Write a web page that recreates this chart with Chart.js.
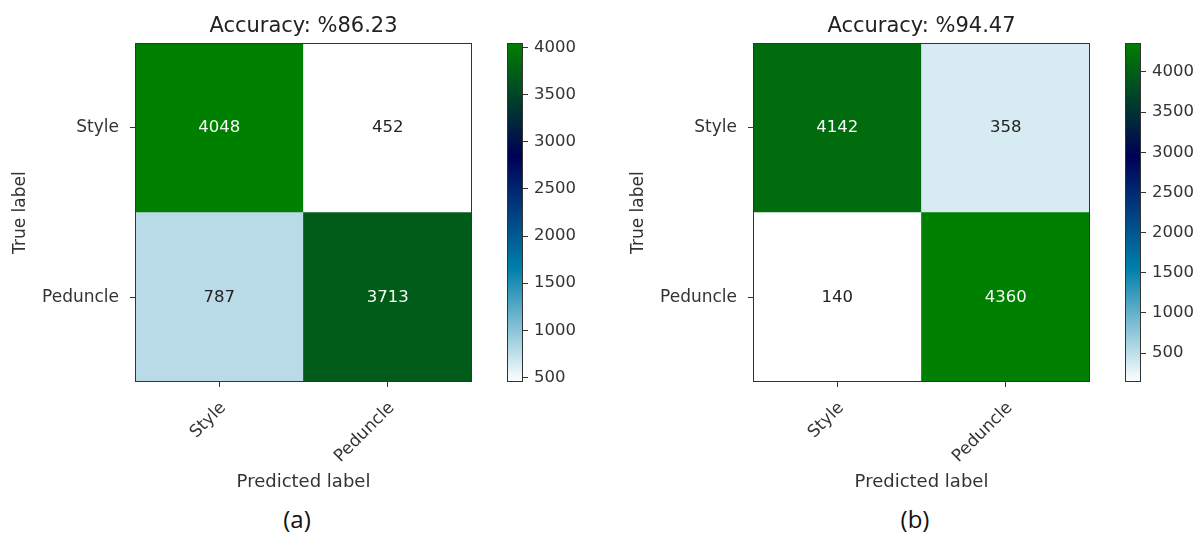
<!DOCTYPE html>
<html>
<head>
<meta charset="utf-8">
<title>Confusion matrices</title>
<script src="https://cdn.jsdelivr.net/npm/chart.js@4.4.1/dist/chart.umd.min.js"></script>
<style>
  html, body { margin: 0; padding: 0; background: #fff; width: 1197px; height: 533px; overflow: hidden; }
  canvas { position: absolute; top: 0; }
  .cap { position: absolute; top: 504px; width: 100px; text-align: center;
         font: 24px 'Open Sans', 'Liberation Sans', sans-serif; color: #111; line-height: 30px; }
</style>
</head>
<body>
<canvas id="matA" style="left:0px" width="480" height="500"></canvas>
<canvas id="barA" style="left:480px" width="120" height="500"></canvas>
<canvas id="matB" style="left:618px" width="480" height="500"></canvas>
<canvas id="barB" style="left:1098px" width="99" height="500"></canvas>
<div class="cap" id="capA" style="left:247px"></div>
<div class="cap" id="capB" style="left:865px"></div>

<script>
// Class names (rows = true label, columns = predicted label)
const classes = ['Style', 'Peduncle'];

// Confusion-matrix counts, row by row
const countsA = [[4048, 452], [787, 3713]];
const countsB = [[4142, 358], [140, 4360]];

// Overall accuracy of each model (percent)
const accuracyA = 86.23;
const accuracyB = 94.47;

// Colour-bar tick values
const colorbarTicks = [500, 1000, 1500, 2000, 2500, 3000, 3500, 4000];

// Panel captions
const captions = ['(a)', '(b)'];

const FONT = "'DejaVu Sans', sans-serif";
const INK = '#333';

// matplotlib "ocean_r" colour map, t in [0, 1]
function oceanR(t) {
  const x = 1 - Math.min(1, Math.max(0, t));
  const c = v => Math.round(255 * Math.min(1, Math.max(0, v)));
  return `rgb(${c(3 * x - 2)}, ${c(Math.abs((3 * x - 1) / 2))}, ${c(x)})`;
}

// Axes frame around the plotting area
const framePlugin = {
  id: 'frame',
  afterDatasetsDraw(chart) {
    const { ctx, chartArea: a } = chart;
    ctx.save();
    ctx.strokeStyle = INK;
    ctx.lineWidth = 1;
    const l = Math.round(a.left) + 0.5, t = Math.round(a.top) + 0.5;
    const r = Math.round(a.right) - 0.5, b = Math.round(a.bottom) - 0.5;
    ctx.strokeRect(l, t, r - l, b - t);
    ctx.restore();
  }
};

// Count written in the middle of each cell
const cellTextPlugin = {
  id: 'cellText',
  afterDatasetsDraw(chart, args, opts) {
    const { ctx } = chart;
    ctx.save();
    ctx.font = `16.5px ${FONT}`;
    ctx.textAlign = 'center';
    ctx.textBaseline = 'middle';
    chart.data.datasets.forEach((ds, i) => {
      chart.getDatasetMeta(i).data.forEach((bar, j) => {
        const v = ds.counts[j];
        ctx.fillStyle = v > opts.threshold ? '#f4fbf4' : '#222';
        ctx.fillText(String(v), bar.x, (bar.y + bar.base) / 2);
      });
    });
    ctx.restore();
  }
};

function matrixChart(id, counts, accuracy) {
  const flat = counts.flat();
  const lo = Math.min(...flat), hi = Math.max(...flat);
  const n = classes.length;
  const datasets = [];
  // one stacked dataset per true-label row, bottom row first
  for (let r = n - 1; r >= 0; r--) {
    datasets.push({
      label: classes[r],
      data: classes.map(() => 1),
      counts: counts[r],
      backgroundColor: counts[r].map(v => oceanR((v - lo) / (hi - lo))),
      borderWidth: 0,
      barPercentage: 1,
      categoryPercentage: 1
    });
  }
  return new Chart(document.getElementById(id), {
    type: 'bar',
    data: { labels: classes, datasets },
    options: {
      responsive: false,
      animation: false,
      events: [],
      layout: { padding: { left: 0, right: 8, top: 0, bottom: 0 } },
      plugins: {
        legend: { display: false },
        tooltip: { enabled: false },
        title: {
          display: true,
          fullSize: false,
          text: `Accuracy: %${accuracy.toFixed(2)}`,
          font: { family: FONT, size: 21, weight: 'normal' },
          color: '#222',
          padding: { top: 14, bottom: 4 }
        },
        cellText: { threshold: hi / 2 }
      },
      scales: {
        x: {
          stacked: true,
          ticks: { font: { family: FONT, size: 17 }, color: INK, minRotation: 45, maxRotation: 45, autoSkip: false, padding: 11, labelOffset: 4 },
          grid: { offset: false, drawOnChartArea: false, drawTicks: true, tickLength: 5, color: INK },
          border: { display: false },
          title: { display: true, text: 'Predicted label', font: { family: FONT, size: 18 }, color: INK, padding: { top: 0, bottom: 7 } },
          afterFit: s => { s.height = 118; }
        },
        y: {
          stacked: true,
          min: 0,
          max: n,
          afterBuildTicks: s => { s.ticks = classes.map((c, i) => ({ value: n - i - 0.5 })); },
          ticks: { font: { family: FONT, size: 17 }, color: INK, padding: 11, callback: v => classes[n - 1 - Math.floor(v)] },
          grid: { drawOnChartArea: false, drawTicks: true, tickLength: 5, color: INK },
          border: { display: false },
          title: { display: true, text: 'True label', font: { family: FONT, size: 17 }, color: INK, padding: { top: 10, bottom: 0 } },
          afterFit: s => { s.width = 135; }
        }
      }
    },
    plugins: [framePlugin, cellTextPlugin]
  });
}

function colorbarChart(id, counts, canvasWidth) {
  const flat = counts.flat();
  const lo = Math.min(...flat), hi = Math.max(...flat);
  const padLeft = 27, barWidth = 16;
  const fill = ctx => {
    const area = ctx.chart.chartArea;
    if (!area) return oceanR(0.5);
    const g = ctx.chart.ctx.createLinearGradient(0, area.bottom, 0, area.top);
    for (let k = 0; k <= 48; k++) g.addColorStop(k / 48, oceanR(k / 48));
    return g;
  };
  return new Chart(document.getElementById(id), {
    type: 'bar',
    data: {
      labels: [''],
      datasets: [{ data: [[lo, hi]], backgroundColor: fill, borderWidth: 0, barPercentage: 1, categoryPercentage: 1 }]
    },
    options: {
      responsive: false,
      animation: false,
      events: [],
      layout: { padding: { left: padLeft, right: 0, top: 43, bottom: 118 } },
      plugins: { legend: { display: false }, tooltip: { enabled: false } },
      scales: {
        x: { display: false },
        y: {
          position: 'right',
          min: lo,
          max: hi,
          afterBuildTicks: s => { s.ticks = colorbarTicks.filter(v => v >= lo && v <= hi).map(v => ({ value: v })); },
          ticks: { font: { family: FONT, size: 16.5 }, color: INK, padding: 6, callback: v => String(v) },
          grid: { drawOnChartArea: false, drawTicks: true, tickLength: 5, color: INK },
          border: { display: false },
          afterFit: s => { s.width = canvasWidth - padLeft - barWidth; }
        }
      }
    },
    plugins: [framePlugin]
  });
}

matrixChart('matA', countsA, accuracyA);
colorbarChart('barA', countsA, 120);
matrixChart('matB', countsB, accuracyB);
colorbarChart('barB', countsB, 99);

document.getElementById('capA').textContent = captions[0];
document.getElementById('capB').textContent = captions[1];
</script>
</body>
</html>
